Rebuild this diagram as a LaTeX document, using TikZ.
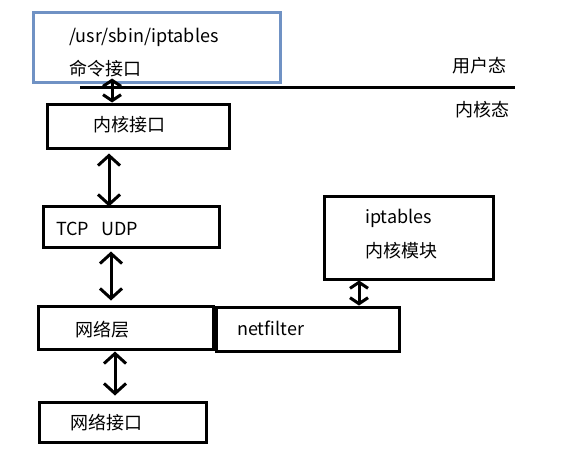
\documentclass[tikz,border=0pt]{standalone}
\usepackage{fontspec}
\newfontfamily\cjk{Noto Sans CJK SC}
\usetikzlibrary{arrows.meta}
\definecolor{userblue}{RGB}{112,146,196}
\begin{document}
\begin{tikzpicture}[x=1pt,y=-1pt,
    box/.style={draw=black,line width=3pt,minimum width=#1},
    txt/.style={anchor=west,inner sep=0pt,font=\cjk\fontsize{18}{21}\selectfont},
    link/.style={line width=3pt,{Straight Barb[length=10pt,width=22pt]}-{Straight Barb[length=10pt,width=22pt]}},
    shortlink/.style={line width=3pt,{Straight Barb[length=6pt,width=18pt]}-{Straight Barb[length=6pt,width=18pt]}}]
    \useasboundingbox (0,0) rectangle (561,460);
    \node[box=247pt,draw=userblue,minimum height=69pt] (cmd) at (156.5,47.5) {};
    \node[box=182pt,minimum height=44pt] (kif) at (138,126) {};
    \node[box=176pt,minimum height=41pt] (tcp) at (131,226.5) {};
    \node[box=175pt,minimum height=43pt] (net) at (125.5,327.5) {};
    \node[box=183pt,minimum height=44pt] (nf) at (307.5,329) {};
    \node[box=169pt,minimum height=83pt] (ipt) at (408.5,237.5) {};
    \node[box=167pt,minimum height=40pt] (nic) at (122.5,422) {};
    \node[txt] (cmdpath) at (69,37) {/usr/sbin/iptables};
    \node[txt] (cmdname) at (69,69) {命令接口};
    \node[txt] (kifname) at (93,125) {内核接口};
    \node[txt] (tcpname) at (56,229) {TCP\ \ \ UDP};
    \node[txt] (netname) at (75,330) {网络层};
    \node[txt] (nfname) at (237,328) {netfilter};
    \node[txt] (iptname) at (365,218) {iptables};
    \node[txt] (iptmod) at (365,251) {内核模块};
    \node[txt] (nicname) at (70,423) {网络接口};
    \node[txt] (user) at (452,66) {用户态};
    \node[txt] (kernel) at (455,110) {内核态};
    % user / kernel divide
    \coordinate (divl) at (80,87);
    \coordinate (divr) at (515,87);
    \draw[line width=3pt] (divl) -- (divr);
    \draw[shortlink,shorten <=-5pt] (112,0 |- cmd.south) -- (112,0 |- kif.north);
    \draw[link,shorten <=4pt,shorten >=-2pt] (109,0 |- kif.south) -- (109,0 |- tcp.north);
    \draw[link,shorten <=3pt,shorten >=4pt] (111,0 |- tcp.south) -- (111,0 |- net.north);
    \draw[link,shorten <=1pt,shorten >=5pt] (115,0 |- net.south) -- (115,0 |- nic.north);
    \draw[shortlink] (359,0 |- ipt.south) -- (359,0 |- nf.north);
\end{tikzpicture}
\end{document}
